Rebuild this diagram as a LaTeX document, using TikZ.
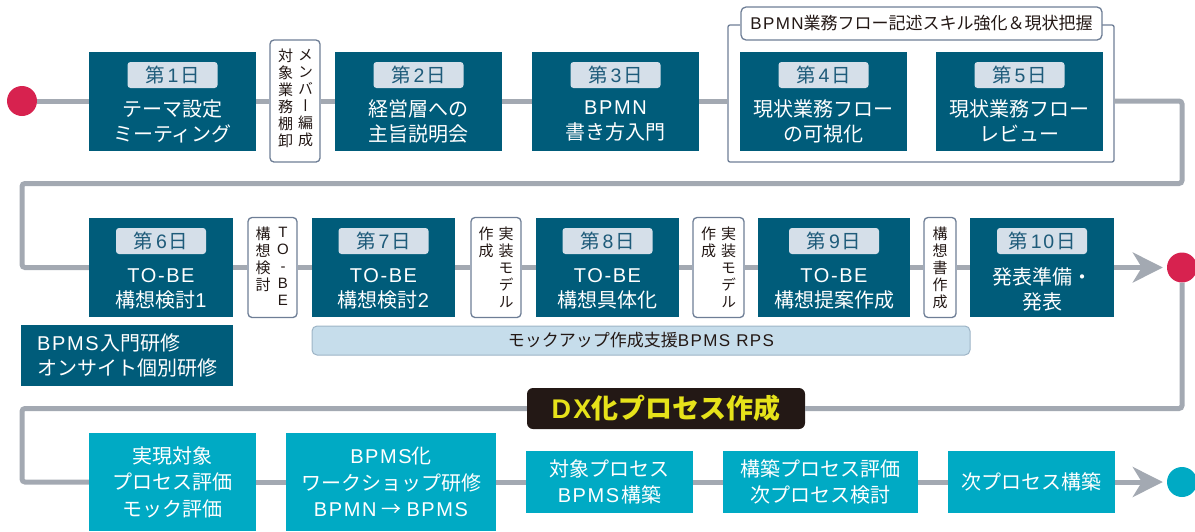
\documentclass[tikz,border=0pt]{standalone}
\usepackage{fontspec}
\setmainfont{Noto Sans CJK JP}
\newfontfamily\vertjp[RawFeature=+vert]{Noto Sans CJK JP}
\newfontfamily\latf[LetterSpace=8]{Liberation Sans}
\newcommand\ltn[1]{{\latf #1}}
\newcommand\plday[1]{第\hspace{3pt}\ltn{#1}\hspace{2pt}日}
\usetikzlibrary{arrows.meta}
\definecolor{dteal}{HTML}{005C7A}
\definecolor{pillbg}{HTML}{D5DFE9}
\definecolor{pilltx}{HTML}{1E5B7A}
\definecolor{cyanbox}{HTML}{00AAC4}
\definecolor{conngray}{HTML}{A3A9B2}
\definecolor{slate}{HTML}{6E7E96}
\definecolor{rpsbg}{HTML}{C6DDEB}
\definecolor{rpsbd}{HTML}{9DB4C6}
\definecolor{reddot}{HTML}{D7224F}
\definecolor{dxbg}{HTML}{231815}
\definecolor{dxyel}{HTML}{E6E21A}
\definecolor{ink}{HTML}{231815}
\begin{document}
\begin{tikzpicture}[x=1pt,y=-1pt,
  conn/.style={draw=conngray, line width=5pt},
  tipped/.style={-{Stealth[length=30pt,width=30pt,inset=9pt]}},
  daybox/.style={fill=dteal, inner sep=0, minimum height=99pt},
  pill/.style={fill=pillbg, rounded corners=3pt, minimum width=90pt, minimum height=26pt, inner sep=0, text=pilltx, font=\fontsize{19.5}{21}\selectfont},
  bxtext/.style={text=white, align=center, font=\fontsize{20}{25}\selectfont, inner sep=0},
  note/.style={draw=slate, line width=1.3pt, fill=white, rounded corners=4pt, inner sep=0},
  vcol/.style={align=center, inner sep=0, text=ink, font=\vertjp\fontsize{15}{17}\selectfont, anchor=north},
  dot/.style={circle, inner sep=0, minimum size=30pt},
  cybox/.style={fill=cyanbox, text=white, align=center, font=\fontsize{20}{26.5}\selectfont, inner sep=0},
]
\useasboundingbox (0,0) rectangle (1195,531);
\clip (0,0) rectangle (1195,531);

% ---------- row 1 ----------
\node[dot, fill=reddot] (dot1) at (22,101) {};
\node[daybox, minimum width=167pt] (d1) at (172.5,101) {};
\node[daybox, minimum width=167pt] (d2) at (418.5,101) {};
\node[daybox, minimum width=167pt] (d3) at (615.5,101) {};
\node[daybox, minimum width=167pt] (d4) at (823.5,101) {};
\node[daybox, minimum width=167pt] (d5) at (1019.5,101) {};
\node[note, minimum width=50pt, minimum height=122pt] (n1) at (295,101) {};

\node[pill] (p1) at (172.5,75) {\plday{1}};
\node[pill] (p2) at (418.5,75) {\plday{2}};
\node[pill] (p3) at (615.5,75) {\plday{3}};
\node[pill] (p4) at (823.5,75) {\plday{4}};
\node[pill] (p5) at (1019.5,75) {\plday{5}};
\node[bxtext] (t1) at (172.5,121) {テーマ設定\\ミーティング};
\node[bxtext] (t2) at (418.5,121) {経営層への\\主旨説明会};
\node[bxtext] (t3) at (615.5,121) {\ltn{BPMN}\\書き方入門};
\node[bxtext] (t4) at (823.5,121) {現状業務フロー\\の可視化};
\node[bxtext] (t5) at (1019.5,121) {現状業務フロー\\レビュー};
\node[vcol] (n1a) at (305.5,49) {メ\\ン\\バ\\ー\\編\\成};
\node[vcol] (n1b) at (285.5,49) {対\\象\\業\\務\\棚\\卸};

% group bracket
\coordinate (gL) at (728,101);
\coordinate (gR) at (1114,101);
\draw[slate, line width=1.3pt, rounded corners=2pt] (740,25) -- (728,25) -- (728,162) -- (1114,162) -- (1114,25) -- (1102,25);
\node[draw=slate, line width=1.3pt, fill=white, rounded corners=5pt, minimum width=361pt, minimum height=33pt, inner sep=0, text=ink, font=\fontsize{17}{19}\selectfont] (gl) at (921.5,23.5) {\ltn{BPMN}業務フロー記述スキル強化＆現状把握};

% ---------- row 2 ----------
\node[daybox, minimum width=144pt] (d6) at (161,267.5) {};
\node[daybox, minimum width=143pt] (d7) at (383.5,267.5) {};
\node[daybox, minimum width=143pt] (d8) at (607.5,267.5) {};
\node[daybox, minimum width=152pt] (d9) at (834,267.5) {};
\node[daybox, minimum width=144pt] (d10) at (1042,267.5) {};
\node[note, minimum width=49pt, minimum height=100pt] (n2) at (272.5,267.5) {};
\node[note, minimum width=50pt, minimum height=100pt] (n3) at (496,267.5) {};
\node[note, minimum width=51pt, minimum height=100pt] (n4) at (718.5,267.5) {};
\node[note, minimum width=32pt, minimum height=100pt] (n5) at (940,267.5) {};
\node[dot, fill=reddot] (dot2) at (1182,267.5) {};

\node[pill] (p6) at (161,241) {\plday{6}};
\node[pill] (p7) at (383.5,241) {\plday{7}};
\node[pill] (p8) at (607.5,241) {\plday{8}};
\node[pill] (p9) at (834,241) {\plday{9}};
\node[pill] (p10) at (1042,241) {\plday{10}};
\node[bxtext] (t6) at (161,289) {\ltn{TO-BE}\\構想検討\ltn{1}};
\node[bxtext] (t7) at (383.5,289) {\ltn{TO-BE}\\構想検討\ltn{2}};
\node[bxtext] (t8) at (607.5,289) {\ltn{TO-BE}\\構想具体化};
\node[bxtext] (t9) at (834,289) {\ltn{TO-BE}\\構想提案作成};
\node[bxtext] (t10) at (1042,289) {発表準備・\\発表};

\node[vcol] (n2a) at (283,227) {\ltn{T}\\\ltn{O}\\\ltn{-}\\\ltn{B}\\\ltn{E}};
\node[vcol] (n2b) at (263,227) {構\\想\\検\\討};
\node[vcol] (n3a) at (506,227) {実\\装\\モ\\デ\\ル};
\node[vcol] (n3b) at (486,227) {作\\成};
\node[vcol] (n4a) at (728.5,227) {実\\装\\モ\\デ\\ル};
\node[vcol] (n4b) at (708.5,227) {作\\成};
\node[vcol] (n5a) at (940,227) {構\\想\\書\\作\\成};

\node[fill=rpsbg, draw=rpsbd, line width=1pt, rounded corners=5pt, minimum width=658pt, minimum height=29pt, inner sep=0, text=ink, font=\fontsize{17}{19}\selectfont] (rps) at (641,340.5) {モックアップ作成支援\ltn{BPMS RPS}};
\node[fill=dteal, minimum width=212pt, minimum height=61pt, inner sep=0] (tr) at (127,355.5) {};
\node[bxtext, align=left, anchor=west] (trt) at (37,355.5) {\ltn{BPMS}\hspace{2pt}入門研修\\オンサイト個別研修};

% ---------- row 3 ----------
\node[fill=dxbg, rounded corners=6pt, minimum width=278pt, minimum height=41pt, inner sep=0, text=dxyel, font=\bfseries\fontsize{27}{30}\selectfont] (dx) at (666,408.5) {\ltn{DX}化プロセス作成};
\node[cybox, minimum width=167pt, minimum height=98pt] (b1) at (172.5,482) {実現対象\\プロセス評価\\モック評価};
\node[cybox, minimum width=210pt, minimum height=98pt] (b2) at (391,482) {\ltn{BPMS}化\\ワークショップ研修\\\ltn{BPMN}\hspace{5pt}→\hspace{5pt}\ltn{BPMS}};
\node[cybox, minimum width=167pt, minimum height=62pt] (b3) at (609.5,482) {対象プロセス\\\ltn{BPMS}\hspace{2pt}構築};
\node[cybox, minimum width=195pt, minimum height=62pt] (b4) at (820.5,482) {構築プロセス評価\\次プロセス検討};
\node[cybox, minimum width=167pt, minimum height=62pt] (b5) at (1031.5,482) {次プロセス構築};
\node[dot, fill=cyanbox] (dot3) at (1182,482) {};

% ---------- connectors ----------
\coordinate (r1) at (1182,183.5);
\coordinate (l1) at (22,183.5);
\coordinate (l3) at (22,482);
\draw[conn] (dot1) -- (d1);
\draw[conn] (d1) -- (n1);
\draw[conn] (n1) -- (d2);
\draw[conn] (d2) -- (d3);
\draw[conn] (d3) -- (gL);
\draw[conn, rounded corners=3pt] (gR) -| (r1) -- (l1) |- (d6);
\draw[conn] (d6) -- (n2);
\draw[conn] (n2) -- (d7);
\draw[conn] (d7) -- (n3);
\draw[conn] (n3) -- (d8);
\draw[conn] (d8) -- (n4);
\draw[conn] (n4) -- (d9);
\draw[conn] (d9) -- (n5);
\draw[conn] (n5) -- (d10);
\draw[conn, tipped, shorten >=4pt] (d10) -- (dot2);
\draw[conn, rounded corners=3pt] (dot2) |- (dx);
\draw[conn, rounded corners=3pt] (dx) -| (l3) -- (b1);
\draw[conn] (b1) -- (b2);
\draw[conn] (b2) -- (b3);
\draw[conn] (b3) -- (b4);
\draw[conn] (b4) -- (b5);
\draw[conn, tipped, shorten >=4pt] (b5) -- (dot3);
\end{tikzpicture}
\end{document}
